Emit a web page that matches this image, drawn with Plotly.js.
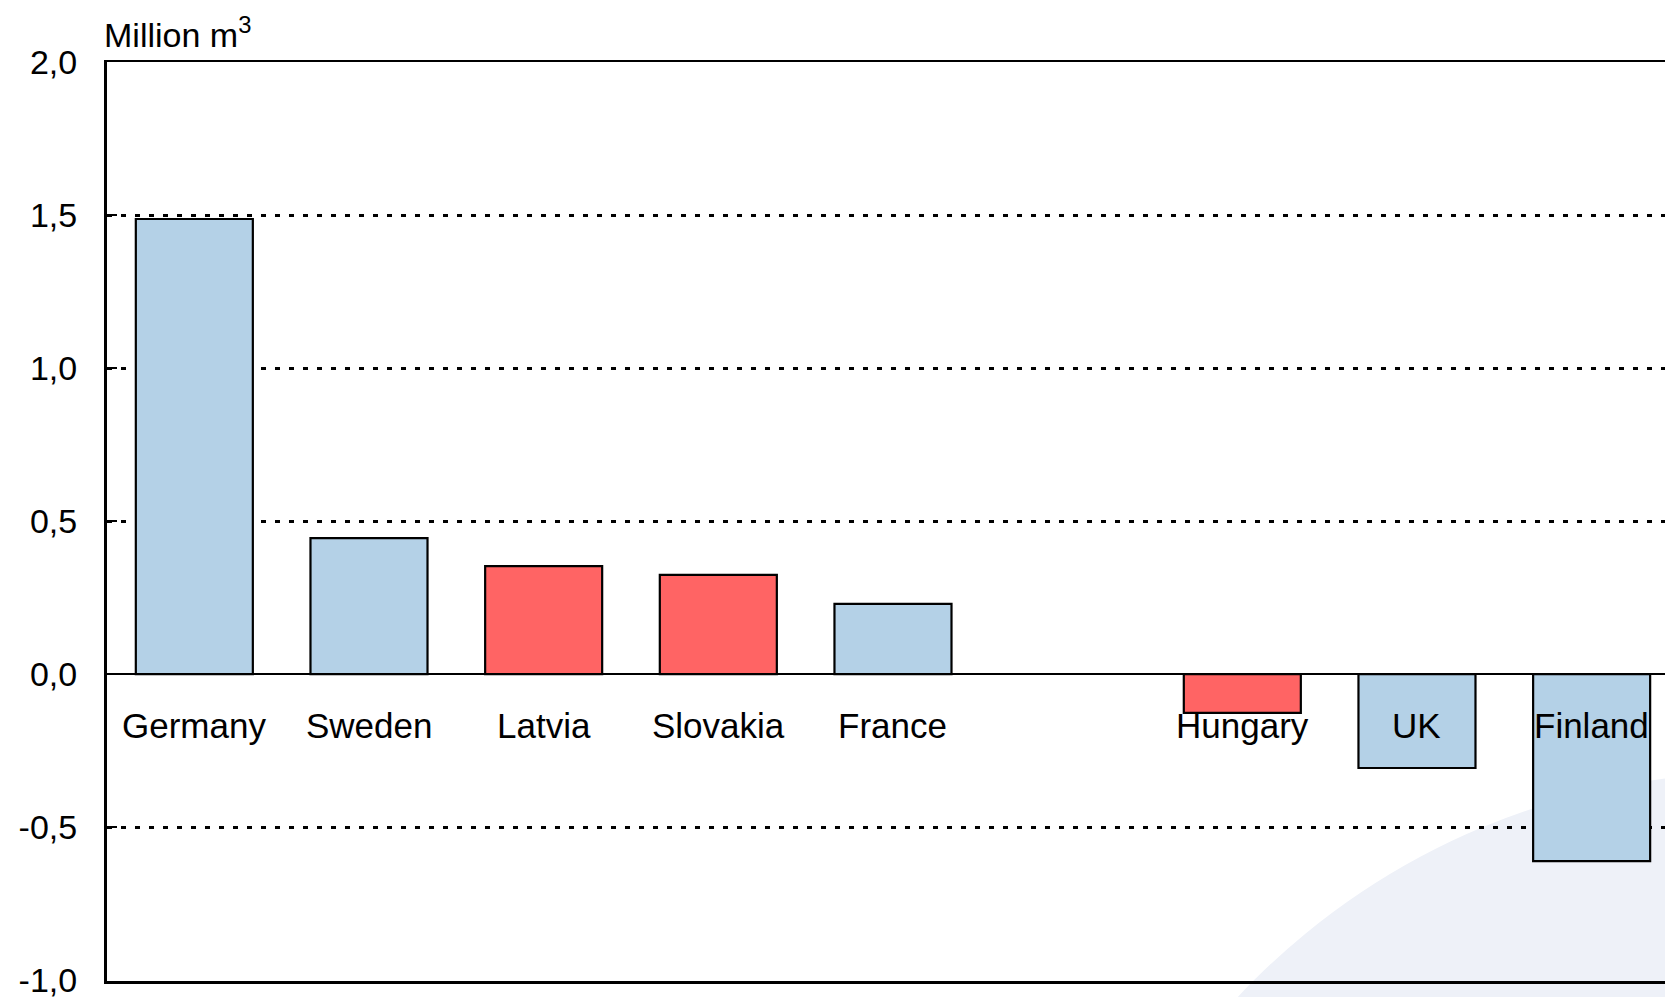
<!DOCTYPE html>
<html>
<head>
<meta charset="utf-8">
<script src="https://cdn.plot.ly/plotly-3.0.1.min.js"></script>
<style>
  html, body { margin: 0; padding: 0; background: #ffffff; }
  #chart { width: 1665px; height: 997px; }
</style>
</head>
<body>
<div id="chart"></div>
<script>
// ---- data ----
const categories = ["Germany", "Sweden", "Latvia", "Slovakia", "France", " ", "Hungary", "UK", "Finland"];
const values     = [1.487, 0.444, 0.353, 0.324, 0.229, null, -0.127, -0.307, -0.611];
const groups     = ["blue", "blue", "red", "red", "blue", null, "red", "blue", "blue"];
const yTickVals  = [-1.0, -0.5, 0.0, 0.5, 1.0, 1.5, 2.0];
const yTickText  = ["-1,0", "-0,5", "0,0", "0,5", "1,0", "1,5", "2,0"];
const unitLabel  = "Million m<sup>3</sup>";

// ---- styling ----
const colorMap = { blue: "#B4D1E7", red: "#FF6464" };
const FONT = "Liberation Sans, Arial, sans-serif";

const trace = {
  type: "bar",
  x: categories,
  y: values,
  width: 0.67,
  marker: {
    color: groups.map(g => g ? colorMap[g] : "rgba(0,0,0,0)"),
    line: { color: "#000000", width: 2.2 }
  },
  hoverinfo: "x+y"
};

const labelAnnotations = categories
  .map((c, i) => ({ c, i }))
  .filter(o => o.c.trim() !== "")
  .map(o => ({
    x: o.c, y: -0.167, xref: "x", yref: "y",
    text: o.c, showarrow: false,
    xanchor: "center", yanchor: "middle",
    font: { family: FONT, size: 35, color: "#000000" }
  }));

const layout = {
  width: 1665,
  height: 997,
  margin: { l: 107, r: 0, t: 62, b: 16, pad: 0 },
  paper_bgcolor: "#ffffff",
  plot_bgcolor: "rgba(0,0,0,0)",
  showlegend: false,
  font: { family: FONT, size: 34, color: "#000000" },
  xaxis: {
    type: "category",
    categoryorder: "array",
    categoryarray: categories,
    range: [-0.5, 8.42],
    showticklabels: false,
    ticks: "",
    showgrid: false,
    zeroline: false,
    showline: true,
    mirror: true,
    linecolor: "#000000",
    linewidth: 2.5,
    automargin: false,
    fixedrange: true
  },
  yaxis: {
    range: [-1.003, 2.0],
    tickvals: yTickVals,
    ticktext: yTickText,
    ticks: "inside",
    ticklen: 10,
    tickwidth: 2.5,
    tickcolor: "#000000",
    ticklabelstandoff: 20,
    ticklabeloverflow: "allow",
    tickfont: { family: FONT, size: 34, color: "#000000" },
    showgrid: true,
    gridcolor: "#000000",
    gridwidth: 3,
    griddash: "5px,9px",
    zeroline: true,
    zerolinecolor: "#000000",
    zerolinewidth: 2.5,
    showline: true,
    linecolor: "#000000",
    linewidth: 3,
    automargin: false,
    fixedrange: true
  },
  shapes: [
    {
      type: "circle",
      xref: "paper", yref: "paper",
      x0: 0.603, x1: 1.512, y0: -1.316, y1: 0.2266,
      fillcolor: "#EEF1F8",
      line: { width: 0 },
      layer: "below"
    }
  ],
  annotations: labelAnnotations.concat([
    {
      xref: "paper", yref: "paper",
      x: -0.003, y: 1.032,
      xanchor: "left", yanchor: "middle",
      text: unitLabel, showarrow: false,
      font: { family: FONT, size: 34, color: "#000000" }
    }
  ])
};

Plotly.newPlot("chart", [trace], layout, { displayModeBar: false, staticPlot: true });
</script>
</body>
</html>
